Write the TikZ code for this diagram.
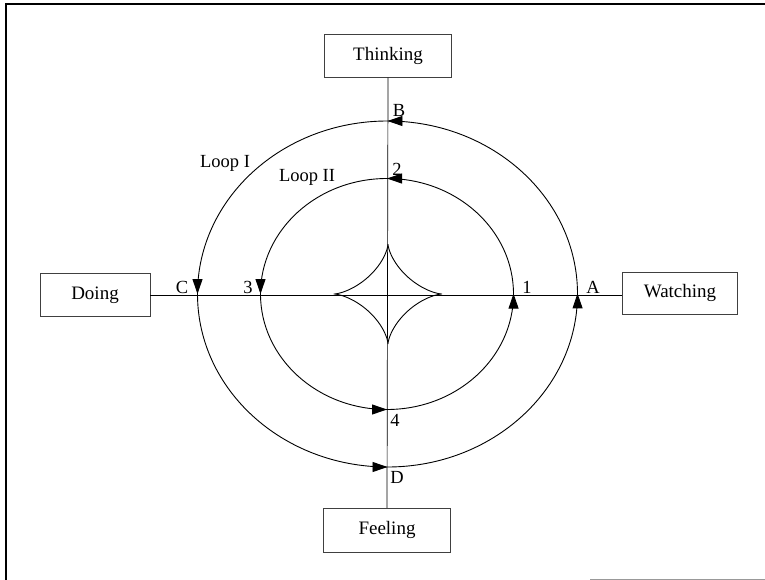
\documentclass[tikz,border=0pt]{standalone}
\usepackage{fontspec}
\setmainfont{Liberation Serif}
\usetikzlibrary{arrows.meta,decorations.markings}

\tikzset{
  pole/.style={draw=black!75,thin,minimum height=43pt,inner sep=0pt,font=\fontsize{19}{21}\selectfont},
  tag/.style={inner sep=1pt,font=\fontsize{18.5}{20}\selectfont},
  loop arrows/.style={decoration={markings,
      mark=at position 0.0005 with {\arrow{Triangle[length=15pt,width=10pt]}},
      mark=at position 0.25 with {\arrow{Triangle[length=15pt,width=10pt]}},
      mark=at position 0.5 with {\arrow{Triangle[length=15pt,width=10pt]}},
      mark=at position 0.75 with {\arrow{Triangle[length=15pt,width=10pt]}}},
    postaction={decorate}}
}

\begin{document}
\begin{tikzpicture}[x=1pt,y=-1pt,line width=0.9pt]
  \useasboundingbox (0,0) rectangle (765,580);

  % ====================================================
  % FRAME
  % ====================================================
  \draw[line width=1.2pt] (6,580) -- (6,4) -- (765,4);
  \draw[black!40,thin] (590,579) -- (765,579);

  % ====================================================
  % FOUR POLES
  % ====================================================
  \node[pole,minimum width=127pt] (think) at (388,56) {Thinking};
  \node[pole,minimum width=110pt] (doing) at (95,295) {Doing};
  \node[pole,minimum width=115pt,minimum height=42pt] (watch) at (680,293) {Watching};
  \node[pole,minimum width=127pt,minimum height=44pt] (feel) at (387,530) {Feeling};

  % axes between the poles
  \draw[line width=0.7pt] (think.south) -- (feel.north);
  \draw[line width=0.7pt] (doing.east) -- (doing.east -| watch.west);

  % ====================================================
  % LOOPS
  % ====================================================
  % Loop I (outer), running A -> B -> C -> D
  \draw[loop arrows] (577.5,294) arc[start angle=0,end angle=-360,x radius=190,y radius=173];
  % Loop II (inner), running 1 -> 2 -> 3 -> 4
  \draw[loop arrows] (513.5,294) arc[start angle=0,end angle=-360,x radius=126.5,y radius=115.5];

  % centre star (astroid)
  \draw plot[domain=0:360,samples=240,smooth]
    ({388+54*cos(\x)*cos(\x)*cos(\x)},{294+50*sin(\x)*sin(\x)*sin(\x)});

  % ====================================================
  % LABELS
  % ====================================================
  \node[tag] (labA) at (593,287) {A};
  \node[tag] (labB) at (399,110) {B};
  \node[tag] (labC) at (182,287) {C};
  \node[tag] (labD) at (397,477) {D};
  \node[tag] (lab1) at (527,287) {1};
  \node[tag] (lab2) at (397,169) {2};
  \node[tag] (lab3) at (248,287) {3};
  \node[tag] (lab4) at (395,420) {4};

  \node[tag] (loopone) at (225,163) {Loop I};
  \node[tag] (looptwo) at (307,177) {Loop II};
\end{tikzpicture}
\end{document}
